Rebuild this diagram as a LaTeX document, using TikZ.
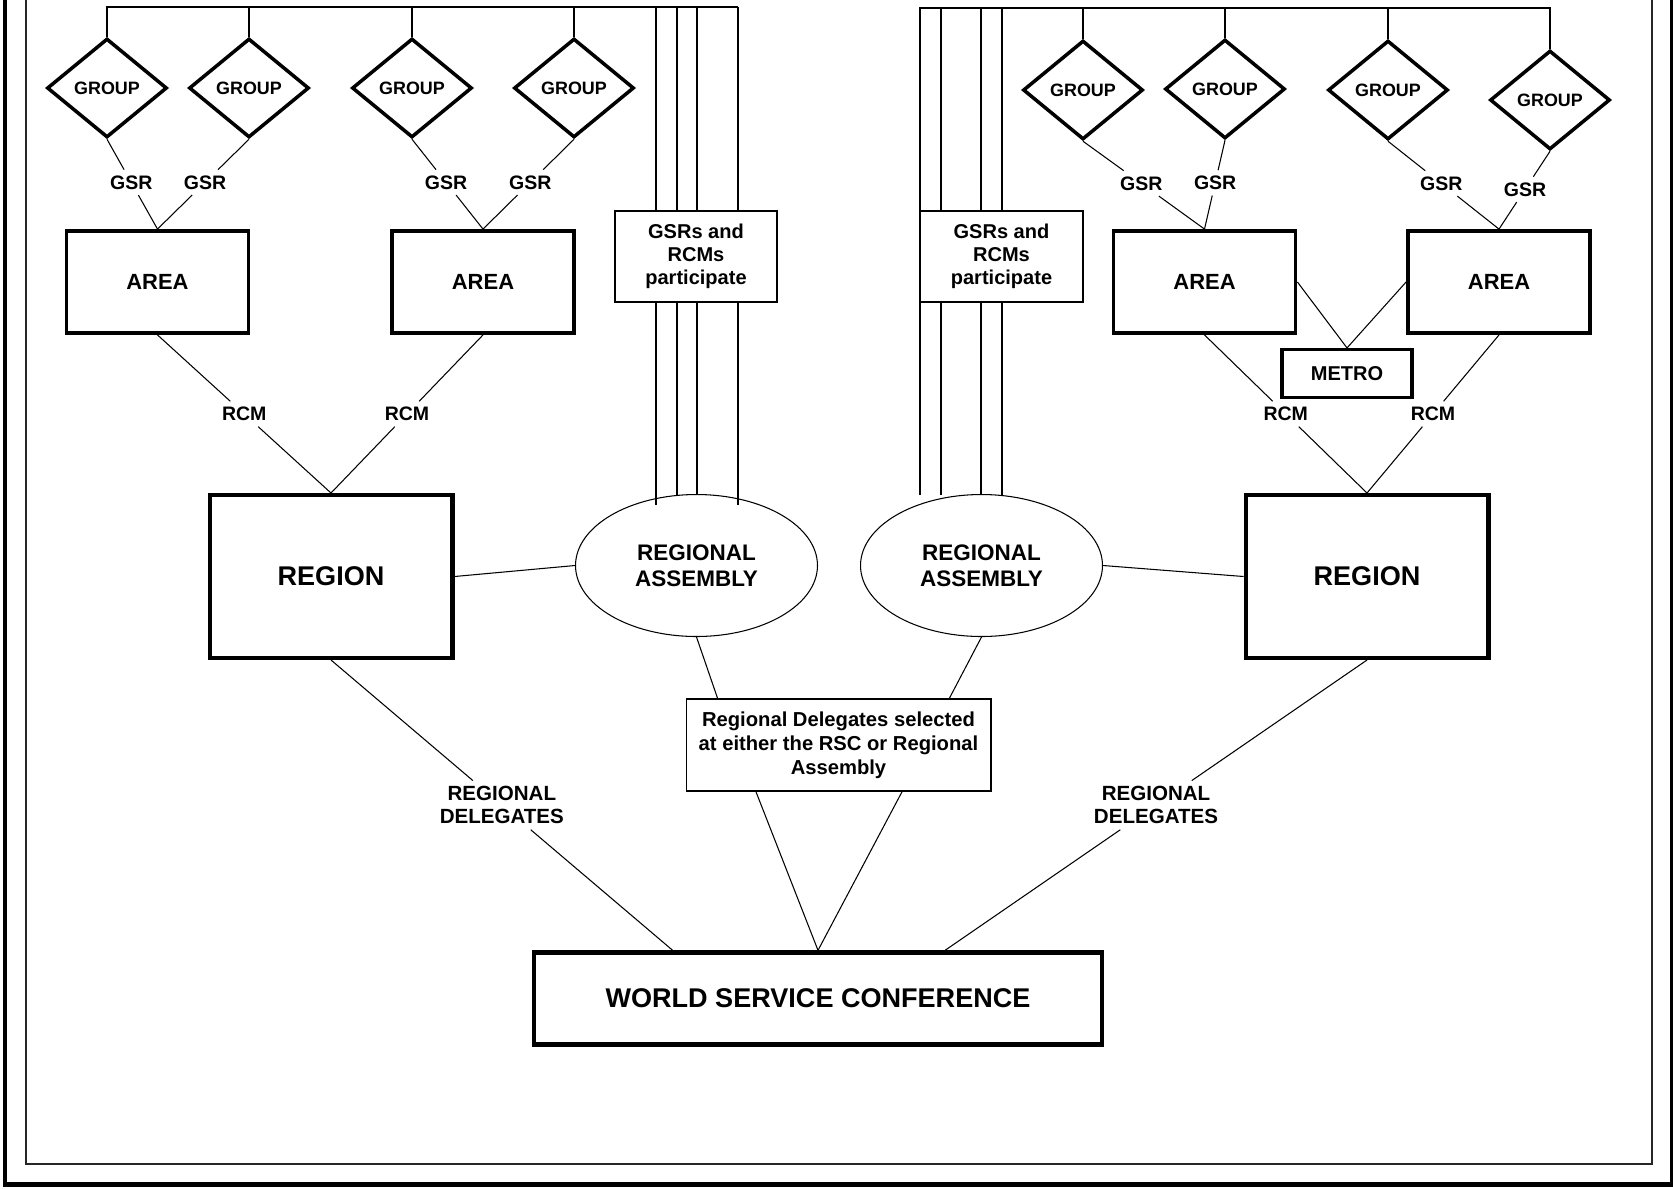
\documentclass[tikz,border=0pt]{standalone}
\usepackage{fontspec}
\setmainfont{Liberation Sans}
\usetikzlibrary{positioning}
\usetikzlibrary{shapes.geometric}
\usetikzlibrary{calc}

\begin{document}
\begin{tikzpicture}[
    x=0.02cm, y=-0.02cm,
    line width=0.6pt,
    grp/.style={diamond, draw, line width=2pt, minimum width=2.4cm, minimum height=1.98cm, inner sep=0pt, font=\bfseries\fontsize{10.2}{12}\selectfont},
    area/.style={draw, line width=2.2pt, minimum width=3.64cm, minimum height=2.04cm, font=\bfseries\fontsize{12.5}{15}\selectfont},
    metro/.style={draw, line width=1.8pt, minimum width=2.6cm, minimum height=0.96cm, font=\bfseries\fontsize{11.4}{13}\selectfont},
    region/.style={draw, line width=2.3pt, minimum width=4.86cm, minimum height=3.26cm, font=\bfseries\fontsize{15.4}{18}\selectfont},
    wsc/.style={draw, line width=2.5pt, minimum width=11.36cm, minimum height=1.84cm, font=\bfseries\fontsize{15.4}{18}\selectfont},
    assembly/.style={ellipse, draw, minimum width=4.84cm, minimum height=2.84cm, inner sep=0pt, align=center, font=\bfseries\fontsize{12.8}{15}\selectfont},
    note/.style={draw, fill=white, align=center, inner sep=0pt, font=\bfseries\fontsize{11.4}{13.1}\selectfont},
    lbl/.style={inner sep=3pt, align=center, font=\bfseries\fontsize{11.1}{13}\selectfont},
    dlbl/.style={inner sep=3pt, align=center, font=\bfseries\fontsize{11.7}{13.1}\selectfont}
]
    \fill[white] (0,0) rectangle (1673,1188);
    \useasboundingbox (0,0) rectangle (1673,1188);

    % page frame
    \draw[line width=0.9pt, black!85] (26,0) -- (26,1164) -- (1652,1164) -- (1652,0);
    \draw[line width=2.8pt] (5,0) -- (5,1184.5) -- (1672.5,1184.5) -- (1672.5,0);

    % groups
    \node[grp] (G1) at (107,88) {GROUP};
    \node[grp] (G2) at (249,88) {GROUP};
    \node[grp] (G3) at (412,88) {GROUP};
    \node[grp] (G4) at (574,88) {GROUP};
    \node[grp] (G5) at (1083,90) {GROUP};
    \node[grp] (G6) at (1225,89) {GROUP};
    \node[grp] (G7) at (1388,90) {GROUP};
    \node[grp] (G8) at (1550,100) {GROUP};

    % areas
    \node[area] (A1) at (157.5,282) {AREA};
    \node[area] (A2) at (483,282) {AREA};
    \node[area] (A3) at (1204.5,282) {AREA};
    \node[area] (A4) at (1499,282) {AREA};
    \node[metro] (M) at (1347,373.5) {METRO};

    % regions and assemblies
    \node[region] (R1) at (331,576.5) {REGION};
    \node[region] (R2) at (1367,576.5) {REGION};
    \node[assembly] (E1) at (696.5,565.5) {REGIONAL\\ASSEMBLY};
    \node[assembly] (E2) at (981.5,565.5) {REGIONAL\\ASSEMBLY};

    \node[note, minimum width=6.1cm, minimum height=1.84cm, font=\bfseries\fontsize{11.5}{13.7}\selectfont] (D) at (838.5,745) {Regional Delegates selected\\at either the RSC or Regional\\Assembly};
    \node[wsc] (W) at (818,998.5) {WORLD SERVICE CONFERENCE};

    % participation lines
    \draw (G1.north) |- (738,7);
    \foreach \grp in {G2,G3,G4} \draw (\grp.north) -- (\grp.north |- 0,7);
    \foreach \xx/\yy in {656/505, 677/495, 697/495, 738/505} \draw (\xx,7) -- (\xx,\yy);
    \draw (G8.north) |- (920,8) -- (920,495);
    \foreach \grp in {G5,G6,G7} \draw (\grp.north) -- (\grp.north |- 0,8);
    \draw[line width=1.2pt] (941,8) -- (G7.north |- 0,8);
    \foreach \xx in {941,981,1002} \draw (\xx,8) -- (\xx,495);

    \node[note, minimum width=3.24cm, minimum height=1.82cm] (P1) at (696,256.5) {GSRs and\\RCMs\\participate};
    \node[note, minimum width=3.26cm, minimum height=1.82cm] (P2) at (1001.5,256.5) {GSRs and\\RCMs\\participate};

    % GSR links
    \foreach \grp/\ar/\ps/\nm in {G1/A1/.48/s1, G2/A1/.48/s2, G3/A2/.48/s3, G4/A2/.48/s4, G5/A3/.48/s5, G6/A3/.48/s6, G7/A4/.48/s7, G8/A4/.49/s8} {
        \path (\grp.south) -- (\ar.north) node[lbl, pos=\ps] (\nm) {GSR};
        \draw (\grp.south) -- (\nm) -- (\ar.north);
    }

    % RCM links
    \foreach \ar/\rg/\nm in {A1/R1/c1, A2/R1/c2, A3/R2/c3, A4/R2/c4} {
        \path (\ar.south) -- (\rg.north) node[lbl, pos=.5] (\nm) {RCM};
        \draw (\ar.south) -- (\nm) -- (\rg.north);
    }
    \draw (A3.east) -- (M.north) -- (A4.west);

    \draw (R1.east) -- (E1.west);
    \draw (E2.east) -- (R2.west);
    \draw (E1.south) -- ($(D.north west)!.105!(D.north east)$);
    \draw (E2.south) -- ($(D.north west)!.862!(D.north east)$);
    \draw ($(D.south west)!.23!(D.south east)$) -- (W.north) -- ($(D.south west)!.708!(D.south east)$);

    % delegates
    \path (R1.south) -- ($(W.north west)!.246!(W.north east)$) node[dlbl, pos=.5] (d1) {REGIONAL\\DELEGATES};
    \draw (R1.south) -- (d1) -- ($(W.north west)!.246!(W.north east)$);
    \path (R2.south) -- ($(W.north west)!.722!(W.north east)$) node[dlbl, pos=.5] (d2) {REGIONAL\\DELEGATES};
    \draw (R2.south) -- (d2) -- ($(W.north west)!.722!(W.north east)$);
\end{tikzpicture}
\end{document}
